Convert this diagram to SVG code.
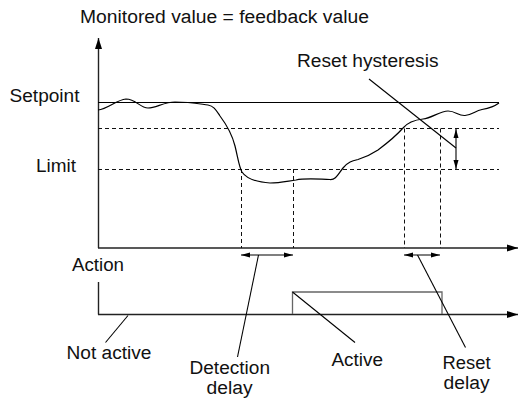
<svg xmlns="http://www.w3.org/2000/svg" width="519" height="398" viewBox="0 0 519 398">
<defs>
<marker id="big" markerUnits="userSpaceOnUse" markerWidth="12" markerHeight="8" refX="11" refY="4" orient="auto"><path d="M0,0.5 L11,4 L0,7.5 Z" fill="#000"/></marker>
<marker id="sm" markerUnits="userSpaceOnUse" markerWidth="9" markerHeight="6" refX="9" refY="3" orient="auto-start-reverse"><path d="M0,0.5 L9,3 L0,5.5 Z" fill="#000"/></marker>
</defs>
<style>
text{font-family:"Liberation Sans",Arial,sans-serif;font-size:18px;fill:#111}
.ax{stroke:#222;stroke-width:1.4;fill:none}
.ln{stroke:#000;stroke-width:1.1;fill:none}
.ds{stroke:#111;stroke-width:1;fill:none;stroke-dasharray:4 3}
.cv{stroke:#000;stroke-width:1.2;fill:none}
</style>
<rect width="519" height="398" fill="#fff"/>
<g id="axes">
<path class="ax" d="M98.5,248 V38" marker-end="url(#big)"/>
<path class="ax" d="M98,248 H518" marker-end="url(#big)"/>
<path class="ax" d="M98.5,282 V314.5" stroke="#555"/>
<path class="ax" d="M98,314.5 H518" marker-end="url(#big)"/>
</g>
<g id="levels">
<path class="ln" d="M98,102.5 H499"/>
<path class="ds" d="M98,128.5 H499"/>
<path class="ds" d="M98,169.5 H499"/>
<path class="ds" d="M241.5,169 V248 M293.5,169 V248 M404.5,128.5 V248 M440.5,128.5 V248"/>
</g>
<g id="curve">
<path class="cv" d="M98,110 C108,109 116,100 126,99 C136,99 140,108 148,108 C156,108 164,102 175,102 C190,102 200,104 208,105 C214,106 216,110 220,116 C226,124 232,134 235,146 C238,158 239,167 242,172 C246,178 256,182 270,183 C280,183 288,181 296,180 C305,178 315,179 330,179.5 C336,180 338,174 343,168 C348,162 352,161 358,159.5 C366,157 372,154 378,150 C390,141 396,136 403,128 C408,122 414,120 423,119 C432,118 440,111 448,111 C456,111 458,116 465,115.5 C472,115 475,111 482,109.5 C490,108 495,106 499,103"/>
</g>
<g id="pulse">
<path d="M292.5,314 V292 H442 V314" fill="none" stroke="#666" stroke-width="1.3"/>
</g>
<g id="connectors">
<path class="ln" d="M241,255 H293" marker-start="url(#sm)" marker-end="url(#sm)"/>
<path class="ln" d="M404,255 H440" marker-start="url(#sm)" marker-end="url(#sm)"/>
<path class="ln" d="M456,129 V169" marker-start="url(#sm)" marker-end="url(#sm)"/>
<path class="ln" d="M369,79 L456,148"/>
<path class="ln" d="M128,315.5 L105.5,342.5"/>
<path class="ln" d="M258.5,255 L237.5,357"/>
<path class="ln" d="M292.5,292 L355,342.5"/>
<path class="ln" d="M417.5,255 L465.5,347.5"/>
</g>
<g id="labels">
<text id="t-monitored" x="80" y="22.5" textLength="289" lengthAdjust="spacingAndGlyphs">Monitored value = feedback value</text>
<text id="t-hyst" x="297" y="66.5" textLength="141.5" lengthAdjust="spacingAndGlyphs">Reset hysteresis</text>
<text id="t-setpoint" x="9.5" y="101.5" textLength="70" lengthAdjust="spacingAndGlyphs">Setpoint</text>
<text id="t-limit" x="36" y="172" textLength="40" lengthAdjust="spacingAndGlyphs">Limit</text>
<text id="t-action" x="72" y="271" textLength="52" lengthAdjust="spacingAndGlyphs">Action</text>
<text id="t-notactive" x="66.5" y="358.5" textLength="85" lengthAdjust="spacingAndGlyphs">Not active</text>
<text id="t-detect" x="189.5" y="374" textLength="80.5" lengthAdjust="spacingAndGlyphs">Detection</text>
<text id="t-detect2" x="206.5" y="393.5" textLength="46" lengthAdjust="spacingAndGlyphs">delay</text>
<text id="t-active" x="331.5" y="366" textLength="51.5" lengthAdjust="spacingAndGlyphs">Active</text>
<text id="t-reset" x="442.5" y="368.5" textLength="48" lengthAdjust="spacingAndGlyphs">Reset</text>
<text id="t-reset2" x="443.5" y="388.5" textLength="46" lengthAdjust="spacingAndGlyphs">delay</text>
</g>
</svg>
